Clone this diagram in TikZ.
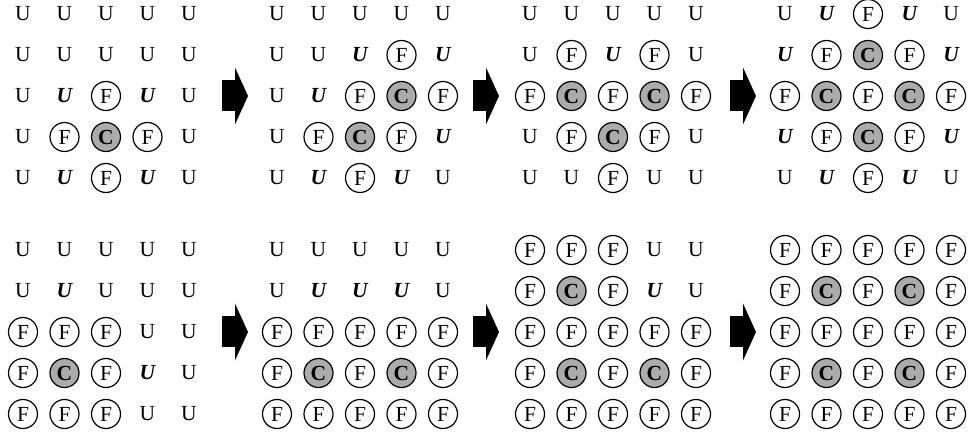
\documentclass[tikz,border=0pt]{standalone}
\usepackage{fontspec}
\setmainfont{Liberation Serif}
\usepackage{xcolor}
\definecolor{cellgray}{HTML}{ABABAB}
\usetikzlibrary{arrows.meta}

% letter of a cell code
\newcommand{\celltext}[1]{\if#1fF\else\if#1cC\else U\fi\fi}
% one 5x5 board: name, left x, top y, 25 cell codes (u, b, f, c)
\newcommand{\board}[4]{%
  \foreach [count=\i from 0] \t in {#4} {%
    \pgfmathtruncatemacro\rr{div(\i,5)}%
    \pgfmathtruncatemacro\cc{mod(\i,5)}%
    \node[cell\t] (#1-\rr-\cc) at ({#2+41.5*\cc},{#3+41*\rr}) {\celltext{\t}};
  }%
}

\begin{document}
\begin{tikzpicture}[x=1pt,y=-1pt,
  cellu/.style={inner sep=0pt,font=\fontsize{21.5}{24}\selectfont},
  cellb/.style={inner sep=0pt,font=\fontsize{21.5}{24}\selectfont\bfseries\itshape},
  cellf/.style={circle,draw,line width=1.2pt,minimum size=29pt,inner sep=0pt,
    font=\fontsize{21.5}{24}\selectfont},
  cellc/.style={cellf,fill=cellgray,font=\fontsize{21.5}{24}\selectfont\bfseries},
  blk/.style={line width=31pt,-{Triangle[length=13pt,width=57pt,line width=0pt]}}]
  \useasboundingbox (0,0) rectangle (974,435);

  % top row
  \board{ta}{23}{14}{u,u,u,u,u, u,u,u,u,u, u,b,f,b,u, u,f,c,f,u, u,b,f,b,u}
  \board{tb}{277}{14}{u,u,u,u,u, u,u,b,f,b, u,b,f,c,f, u,f,c,f,b, u,b,f,b,u}
  \board{tc}{530}{14}{u,u,u,u,u, u,f,b,f,u, f,c,f,c,f, u,f,c,f,u, u,u,f,u,u}
  \board{td}{785}{14}{u,b,f,b,u, b,f,c,f,b, f,c,f,c,f, b,f,c,f,b, u,b,f,b,u}

  % bottom row
  \board{ba}{23}{250}{u,u,u,u,u, u,b,u,u,u, f,f,f,u,u, f,c,f,b,u, f,f,f,u,u}
  \board{bb}{277}{250}{u,u,u,u,u, u,b,b,b,u, f,f,f,f,f, f,c,f,c,f, f,f,f,f,f}
  \board{bc}{530}{250}{f,f,f,u,u, f,c,f,b,u, f,f,f,f,f, f,c,f,c,f, f,f,f,f,f}
  \board{bd}{785}{250}{f,f,f,f,f, f,c,f,c,f, f,f,f,f,f, f,c,f,c,f, f,f,f,f,f}

  % step arrows
  \coordinate (t1s) at (222,96);  \coordinate (t1e) at (248,96);
  \coordinate (t2s) at (473,96);  \coordinate (t2e) at (499,96);
  \coordinate (t3s) at (730,96);  \coordinate (t3e) at (756,96);
  \coordinate (b1s) at (222,332); \coordinate (b1e) at (248,332);
  \coordinate (b2s) at (473,332); \coordinate (b2e) at (499,332);
  \coordinate (b3s) at (730,332); \coordinate (b3e) at (756,332);
  \draw[blk] (t1s) -- (t1e);
  \draw[blk] (t2s) -- (t2e);
  \draw[blk] (t3s) -- (t3e);
  \draw[blk] (b1s) -- (b1e);
  \draw[blk] (b2s) -- (b2e);
  \draw[blk] (b3s) -- (b3e);
\end{tikzpicture}
\end{document}
